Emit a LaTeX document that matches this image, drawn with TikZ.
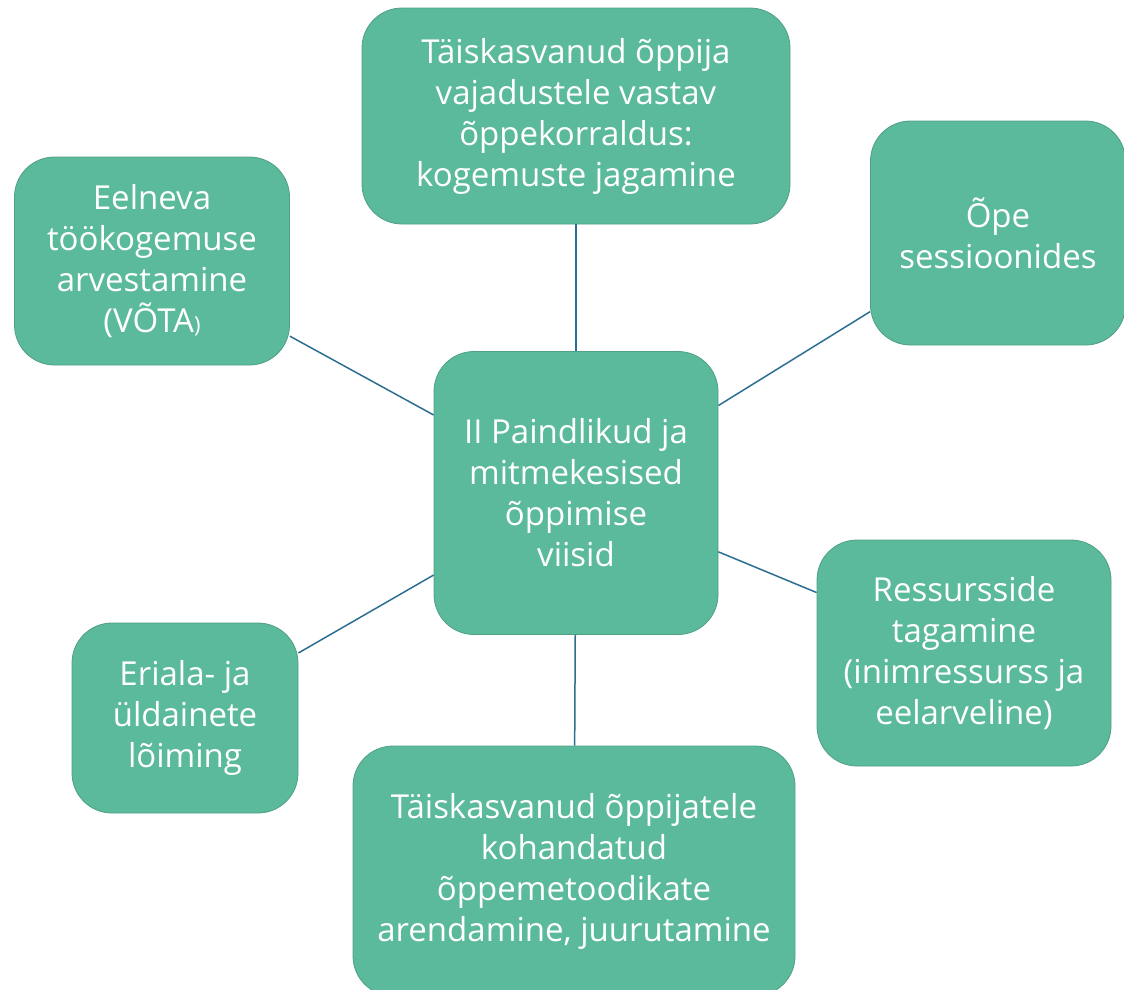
\documentclass[tikz,border=0pt]{standalone}
\usepackage{fontspec}
\setmainfont{Open Sans}
\definecolor{boxgreen}{HTML}{5BBA9B}
\definecolor{boxedge}{HTML}{4F9F86}
\definecolor{linkblue}{HTML}{2C6E91}
\tikzset{
  idea/.style={draw=boxedge,line width=0.8pt,fill=boxgreen,rounded corners=40pt,
    text=white,align=center,inner sep=0pt,
    font=\fontsize{33}{41}\selectfont},
  link/.style={draw=linkblue,line width=1.5pt}
}
\begin{document}
\begin{tikzpicture}[x=1pt,y=-1pt]
	\useasboundingbox (0,0) rectangle (1124,989);
	\node[idea,minimum width=428pt,minimum height=216pt] (top) at (576,116) {Täiskasvanud õppija\\vajadustele vastav\\õppekorraldus:\\kogemuste jagamine};
	\node[idea,minimum width=275pt,minimum height=208pt] (vota) at (152,261) {Eelneva\\töökogemuse\\arvestamine\\(VÕTA{\fontsize{22}{41}\selectfont)}};
	\node[idea,minimum width=255pt,minimum height=224pt] (sess) at (998,233) {Õpe\\sessioonides};
	\node[idea,minimum width=284pt,minimum height=283pt] (mid) at (576,493) {II Paindlikud ja\\mitmekesised\\õppimise\\viisid};
	\node[idea,minimum width=294pt,minimum height=226pt] (ress) at (964,653) {Ressursside\\tagamine\\(inimressurss ja\\eelarveline)};
	\node[idea,minimum width=226pt,minimum height=190pt] (loim) at (185,718) {Eriala- ja\\üldainete\\lõiming};
	\node[idea,minimum width=442pt,minimum height=250pt] (met) at (574,871) {Täiskasvanud õppijatele\\kohandatud\\õppemetoodikate\\arendamine, juurutamine};
	% seosed keskmise kastiga
	\foreach \n in {top,vota,sess,ress,loim,met}
		\draw[link] (mid) -- (\n);
\end{tikzpicture}
\end{document}
